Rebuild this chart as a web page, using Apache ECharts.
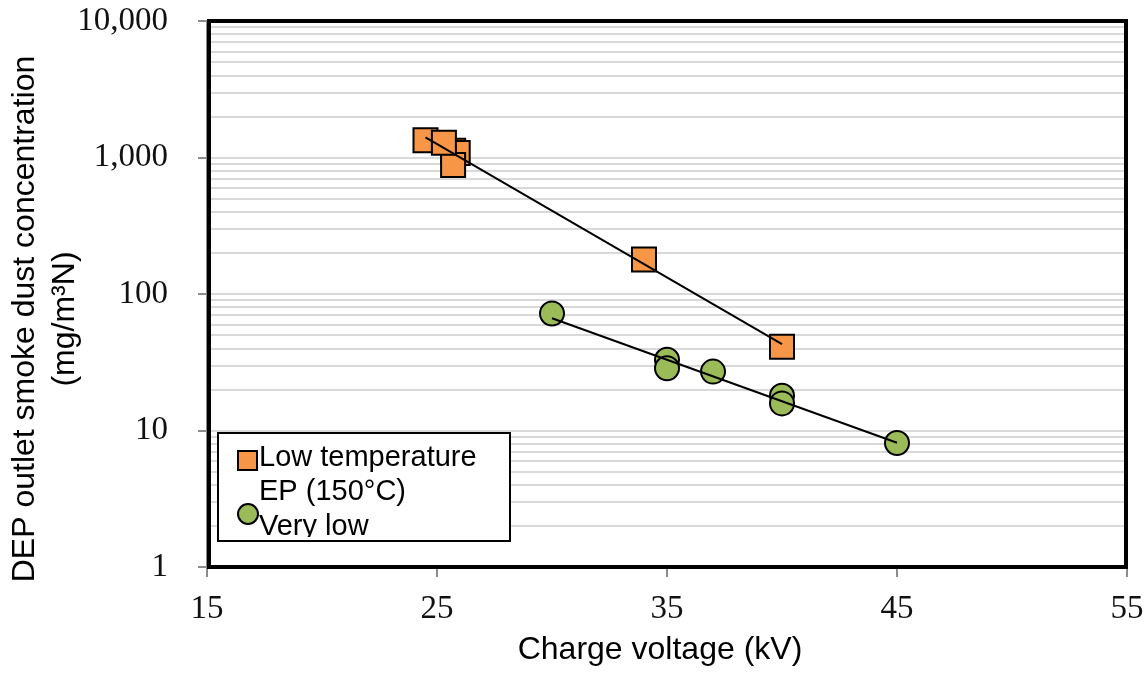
<!DOCTYPE html>
<html>
<head>
<meta charset="utf-8">
<script src="https://cdn.jsdelivr.net/npm/echarts@6/dist/echarts.min.js"></script>
<style>
html,body{margin:0;padding:0;background:#fff;}
#chart{width:1148px;height:673px;}
</style>
</head>
<body>
<div id="chart"></div>
<script>
// ---- data ----
const xTickValues = [15, 25, 35, 45, 55];
const yTickLabels = ['1', '10', '100', '1,000', '10,000'];
const seriesNames = ['Low temperature\nEP (150°C)', 'Very low'];

const lowTempVoltage = [24.5, 25.7, 25.9, 25.7, 25.3, 34.0, 40.0];
const lowTempConc    = [1340, 1120, 1080, 880, 1280, 179, 41];

const veryLowVoltage = [30, 35, 35, 37, 40, 40, 45];
const veryLowConc    = [72, 33, 28.6, 27, 18, 15.8, 8.1];

const lowTempTrendVoltage = [24.5, 40];
const lowTempTrendConc    = [1406, 43];
const veryLowTrendVoltage = [30, 45];
const veryLowTrendConc    = [66.4, 8.14];

const gridMultipliers = [2, 3, 4, 5, 6, 7, 8, 9];
const gridDecades = [1, 10, 100, 1000];

// ---- layout ----
const G = {left: 207, top: 21, right: 21, bottom: 106};
const W = 1148, H = 673;

const zip = (a, b) => a.map((v, i) => [v, b[i]]);
const minorGrid = [];
gridDecades.forEach(d => gridMultipliers.forEach(m => minorGrid.push({yAxis: m * d})));
[10, 100, 1000].forEach(v => minorGrid.push({yAxis: v}));

const chart = echarts.init(document.getElementById('chart'), null, {renderer: 'canvas'});
const sans = 'Liberation Sans, Arial, sans-serif';
const serif = 'Liberation Serif, Times New Roman, serif';

const option = {
  animation: false,
  backgroundColor: '#fff',
  grid: {left: G.left, top: G.top, right: G.right, bottom: G.bottom, show: false},
  xAxis: {
    type: 'value',
    min: xTickValues[0],
    max: xTickValues[xTickValues.length - 1],
    interval: xTickValues[1] - xTickValues[0],
    axisLine: {show: true, onZero: false, lineStyle: {color: '#8c8c8c', width: 2}},
    axisTick: {show: true, length: 10, lineStyle: {color: '#8c8c8c', width: 2}},
    axisLabel: {margin: 42, verticalAlign: 'middle', fontFamily: serif, fontSize: 33, color: '#111'},
    splitLine: {show: false}
  },
  yAxis: {
    type: 'log',
    logBase: 10,
    min: 1,
    max: 10000,
    axisLine: {show: true, lineStyle: {color: '#8c8c8c', width: 2}},
    axisTick: {show: true, length: 9, lineStyle: {color: '#8c8c8c', width: 2}},
    axisLabel: {
      margin: 39, fontFamily: serif, fontSize: 33, color: '#111',
      formatter: v => yTickLabels[Math.round(Math.log10(v))]
    },
    splitLine: {show: false}
  },
  series: [
    {
      type: 'line', data: [], z: 0, zlevel: 0, silent: true,
      markLine: {
        z: 0,
        silent: true, symbol: ['none', 'none'], label: {show: false},
        lineStyle: {color: '#d9d9d9', width: 2, type: 'solid'},
        emphasis: {disabled: true},
        data: minorGrid
      }
    },
    {
      name: seriesNames[0], type: 'scatter', z: 3,
      symbol: 'rect', symbolSize: 24,
      itemStyle: {color: '#F79646', borderColor: '#000', borderWidth: 2, opacity: 1},
      data: zip(lowTempVoltage, lowTempConc)
    },
    {
      name: seriesNames[1], type: 'scatter', z: 3,
      symbol: 'circle', symbolSize: 24,
      itemStyle: {color: '#9BBB59', borderColor: '#000', borderWidth: 2, opacity: 1},
      data: zip(veryLowVoltage, veryLowConc)
    },
    {
      type: 'line', z: 5, symbol: 'none', silent: true,
      lineStyle: {color: '#000', width: 2},
      data: zip(lowTempTrendVoltage, lowTempTrendConc)
    },
    {
      type: 'line', z: 5, symbol: 'none', silent: true,
      lineStyle: {color: '#000', width: 2},
      data: zip(veryLowTrendVoltage, veryLowTrendConc)
    }
  ],
  graphic: [
    // plot frame
    {
      type: 'rect', z: 10, silent: true,
      shape: {x: G.left + 2, y: G.top, width: W - G.left - G.right - 3, height: H - G.top - G.bottom},
      style: {fill: 'none', stroke: '#000', lineWidth: 4}
    },
    // legend box
    {
      type: 'rect', z: 20,
      shape: {x: 218, y: 433, width: 292, height: 108},
      style: {fill: '#fff', stroke: 'none'}
    },
    {
      type: 'rect', z: 21,
      shape: {x: 238, y: 451, width: 19, height: 19},
      style: {fill: '#F79646', stroke: '#000', lineWidth: 2}
    },
    {
      type: 'circle', z: 21,
      shape: {cx: 248, cy: 514, r: 10},
      style: {fill: '#9BBB59', stroke: '#000', lineWidth: 2}
    },
    {
      type: 'text', z: 21,
      style: {x: 259, y: 457.5, text: 'Low temperature', font: '29px ' + sans, fill: '#000', verticalAlign: 'middle'}
    },
    {
      type: 'text', z: 21,
      style: {x: 259, y: 492, text: 'EP (150°C)', font: '29px ' + sans, fill: '#000', verticalAlign: 'middle'}
    },
    {
      type: 'text', z: 21,
      style: {x: 259, y: 527, text: seriesNames[1], font: '29px ' + sans, fill: '#000', verticalAlign: 'middle'}
    },
    {
      type: 'rect', z: 22,
      shape: {x: 219, y: 537, width: 290, height: 14},
      style: {fill: '#fff', stroke: 'none'}
    },
    {
      type: 'rect', z: 23,
      shape: {x: 218, y: 433, width: 292, height: 108},
      style: {fill: 'none', stroke: '#000', lineWidth: 2}
    },
    // axis titles
    {
      type: 'text', z: 5,
      style: {x: 660, y: 650, text: 'Charge voltage (kV)', font: '32px ' + sans, fill: '#000', align: 'center', verticalAlign: 'middle'}
    },
    {
      type: 'text', z: 5, rotation: Math.PI / 2, x: 45, y: 319,
      style: {x: 0, y: 0, text: 'DEP outlet smoke dust concentration\n(mg/m³N)', font: '32px ' + sans, lineHeight: 40, fill: '#000', align: 'center', verticalAlign: 'middle'}
    }
  ]
};
chart.setOption(option);
</script>
</body>
</html>
